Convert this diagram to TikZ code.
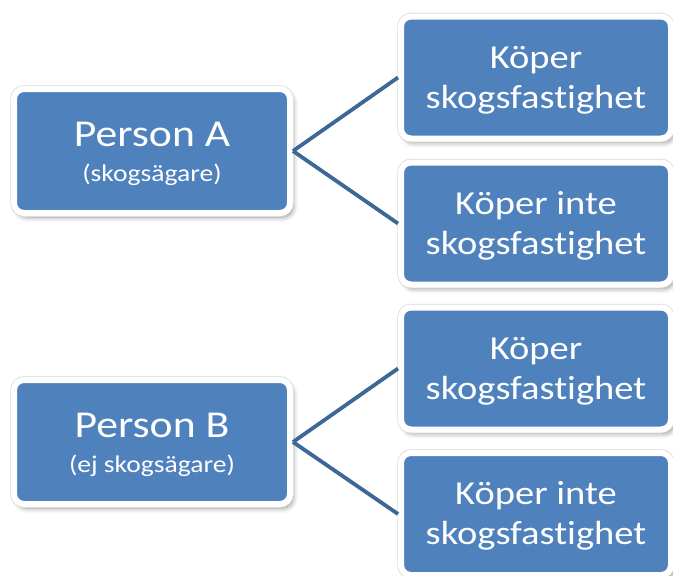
\documentclass[tikz,border=0pt]{standalone}
\usepackage{fontspec}
\setmainfont{Carlito}[FakeStretch=1.15, Ligatures=NoCommon]
\usetikzlibrary{shadows.blur}
\definecolor{boxblue}{HTML}{4F81BD}
\definecolor{linkblue}{HTML}{3C6896}
\definecolor{rimgray}{HTML}{D9D9D9}
\newcommand{\headstrut}{\rule{0pt}{31pt}}
\newcommand{\choicestrut}{\rule{0pt}{27pt}}
\begin{document}
\begin{tikzpicture}[x=1pt,y=-1pt,
  card/.style={rectangle, rounded corners=10pt, fill=boxblue, draw=white,
    line width=6pt, text=white, align=center, inner sep=0pt,
    blur shadow={shadow xshift=3pt, shadow yshift=-4pt,
      shadow blur radius=5pt, shadow opacity=45},
    preaction={draw=rimgray, line width=7.5pt}},
  person/.style={card, minimum width=276pt, minimum height=124pt,
    font=\fontsize{24}{35}\selectfont},
  choice/.style={card, minimum width=270pt, minimum height=122pt,
    font=\fontsize{33.5}{40}\selectfont},
  link/.style={draw=linkblue, line width=3.8pt}]
\useasboundingbox (0,0) rectangle (673,576);

% owners on the left
\node[person] (pa) at (152,151) {{\fontsize{38}{38}\selectfont\headstrut Person A}\\(skogsägare)};
\node[person] (pb) at (152,442) {{\fontsize{38}{38}\selectfont\headstrut Person B}\\(ej skogsägare)};

% outcomes on the right
\node[choice] (a1) at (536,77.5) {\choicestrut Köper\\skogsfastighet};
\node[choice] (a2) at (536,223.5) {\choicestrut Köper inte\\skogsfastighet};
\node[choice] (b1) at (536,368.5) {\choicestrut Köper\\skogsfastighet};
\node[choice] (b2) at (536,514) {\choicestrut Köper inte\\skogsfastighet};

% branches
\draw[link] (pa.east) -- (a1.west);
\draw[link] (pa.east) -- (a2.west);
\draw[link] (pb.east) -- (b1.west);
\draw[link] (pb.east) -- (b2.west);
\end{tikzpicture}
\end{document}
